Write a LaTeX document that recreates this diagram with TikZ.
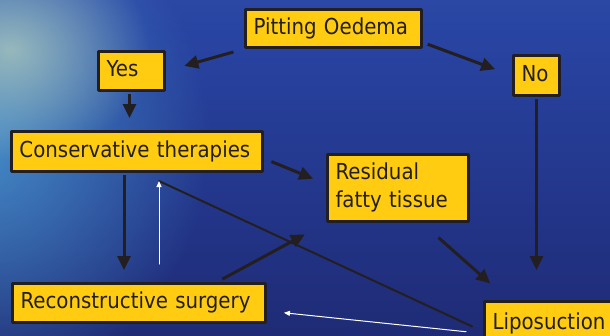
\documentclass[tikz,border=0pt]{standalone}
\usepackage{fontspec}
\setmainfont{DejaVu Sans}[FakeStretch=0.9]
\usetikzlibrary{arrows.meta,fadings}

\definecolor{ink}{RGB}{35,31,32}
\definecolor{boxfill}{RGB}{255,204,17}
\definecolor{seaglow}{RGB}{75,155,210}
\definecolor{seahaze}{RGB}{190,215,190}
\definecolor{seabot}{RGB}{25,30,88}
\definecolor{seamid}{RGB}{33,48,128}
\definecolor{seaupper}{RGB}{40,68,162}
\definecolor{seatop}{RGB}{62,88,178}
\definecolor{skyline}{RGB}{205,192,210}
\pgfdeclareverticalshading{seabg}{100bp}{%
  color(0bp)=(seabot);
  color(35bp)=(seamid);
  color(70bp)=(seaupper);
  color(97bp)=(seatop);
  color(100bp)=(skyline)}
\tikzfading[name=glow, inner color=transparent!0, outer color=transparent!100]

\begin{document}
\begin{tikzpicture}[x=1pt,y=-1pt,line cap=round,line join=round,
    box/.style={draw=ink, line width=3pt, fill=boxfill, text=ink,
      anchor=north west, align=left, inner xsep=8pt, inner ysep=0pt,
      font=\fontsize{22}{28}\selectfont,
      execute at begin node=\strut, execute at end node=\strut},
    arr/.style={draw=ink, line width=3pt, line cap=butt,
      -{Triangle[length=14pt,width=13pt]}},
    backarr/.style={draw=white, line width=1pt,
      -{Triangle[length=6pt,width=5pt]}}]
  \useasboundingbox (0,0) rectangle (610,335);
  \clip (0,0) rectangle (610,335);

  % Sea in the background
  \shade[shading=seabg] (0,0) rectangle (610,335);
  \fill[seaglow, opacity=0.85, path fading=glow] (-20,140) ellipse (230 and 250);
  \fill[seahaze, opacity=0.7, path fading=glow] (10,50) ellipse (140 and 110);

  % Boxes
  \node[box, text width=160pt, minimum height=38pt] (pit) at (244,8) {Pitting Oedema};
  \node[box, text width=50pt, minimum height=39pt] (yes) at (97,50) {Yes};
  \node[box, text width=30pt, minimum height=40pt] (no) at (512,54) {No};
  \node[box, text width=235pt, minimum height=40pt] (cons) at (10,130) {Conservative therapies};
  \node[box, text width=125pt, minimum height=67pt] (res) at (326,153) {Residual\\fatty tissue};
  \node[box, text width=237pt, minimum height=39pt] (recon) at (11,282) {Reconstructive surgery};
  \node[box, text width=124pt, minimum height=44pt] (lipo) at (483,300) {Liposuction};

  % Yes / No
  \draw[arr, shorten <=11pt, shorten >=19pt] (pit.south west) -- (yes.east);
  \draw[arr, shorten <=5pt, shorten >=18pt] ([yshift=-14pt]pit.east) -- (no.west);
  \draw[arr, shorten <=2pt, shorten >=12pt] ([xshift=-2pt]yes.south) -- ([xshift=-2pt]yes.south |- cons.north);
  \draw[arr, shorten <=2pt, shorten >=30pt] (no.south) -- (no.south |- lipo.north);

  % Treatment paths
  \draw[arr, shorten <=8pt, shorten >=14pt] ([yshift=-7pt]cons.east) -- ([yshift=4pt]res.west);
  \draw[arr, shorten <=2pt, shorten >=12pt] ([xshift=-13pt]cons.south) -- ([xshift=-13pt]cons.south |- recon.north);
  \draw[arr, shorten <=6pt, shorten >=24pt] ([xshift=78pt]recon.north) -- (res.south west);
  \draw[arr, shorten <=22pt, shorten >=25pt] ([xshift=24pt]res.south) -- ([xshift=26pt]lipo.north west);

  % Back from liposuction
  \draw[ink, line width=2pt, shorten <=12pt] ([yshift=-8pt]lipo.west) -- ([xshift=22pt,yshift=-8pt]cons.south);
  \draw[backarr, shorten <=18pt, shorten >=8pt] ([xshift=20pt]recon.north) -- ([xshift=20pt]recon.north |- cons.south);
  \draw[backarr, shorten <=17pt, shorten >=17pt] ([yshift=-10pt]lipo.west) -- ([yshift=-8pt]recon.east);
\end{tikzpicture}
\end{document}
